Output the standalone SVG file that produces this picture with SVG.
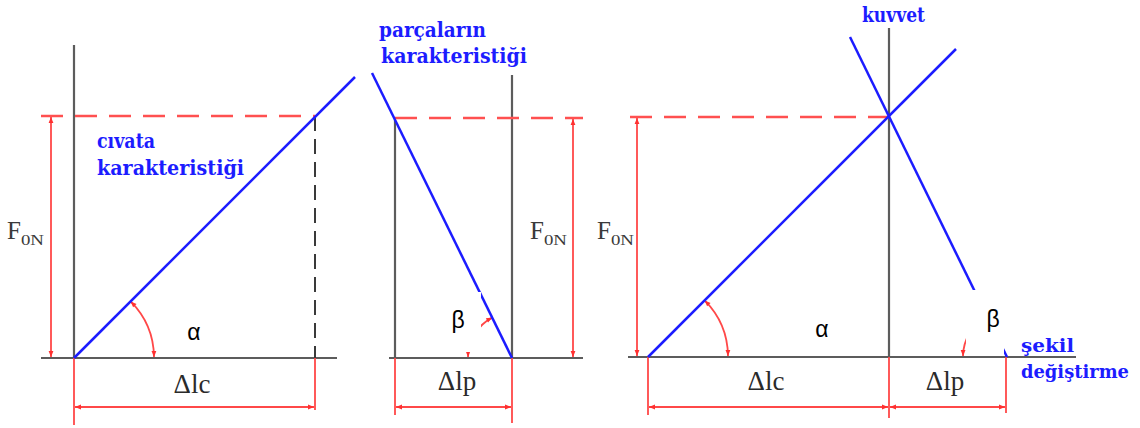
<svg xmlns="http://www.w3.org/2000/svg" width="1140" height="428" viewBox="0 0 1140 428">
<style>
.ax{stroke:#5c5c5c;stroke-width:2.2;fill:none}
.bl{stroke:#1c1cff;stroke-width:2.5;fill:none}
.rd{stroke:#ff4848;stroke-width:1.8;fill:none}
.rdd{stroke:#ff5050;stroke-width:2.4;fill:none;stroke-dasharray:22 12}
.kd{stroke:#3a3a3a;stroke-width:2;fill:none;stroke-dasharray:15 8}
.dim{stroke:#ff4848;stroke-width:1.8;fill:none;marker-start:url(#ar);marker-end:url(#ar)}
.lbl{font-family:"DejaVu Serif","Liberation Serif",serif;font-weight:bold;fill:#1c1cff}
.dl{font-family:"Liberation Serif",serif;font-size:27px;fill:#2a2a2a;text-anchor:middle}
.gr{font-family:"Liberation Sans",sans-serif;font-size:23px;fill:#000;text-anchor:middle}
.f{font-family:"Liberation Serif",serif;font-size:25px;fill:#3a3a3a}
.w{fill:#fff;stroke:none}
</style>
<defs>
<marker id="ar" viewBox="0 0 10 10" refX="10" refY="5" markerWidth="9" markerHeight="6" markerUnits="userSpaceOnUse" orient="auto-start-reverse">
<path d="M0,1 L10,5 L0,9 z" fill="#ff3030"/>
</marker>
</defs>

<g id="panel1">
<line class="ax" x1="74" y1="45" x2="74" y2="358"/>
<line class="ax" x1="41" y1="358" x2="337" y2="358"/>
<line class="rdd" x1="41" y1="116" x2="315" y2="116"/>
<line class="kd" x1="315" y1="116" x2="315" y2="358"/>
<line class="rd" x1="74" y1="358" x2="74" y2="425"/>
<line class="rd" x1="315" y1="358" x2="315" y2="410"/>
<line class="dim" x1="51" y1="117" x2="51" y2="357"/>
<line class="dim" x1="75" y1="407" x2="314" y2="407"/>
<path class="dim" d="M130.6,301.4 A80,80 0 0 1 154,357"/>
<line class="bl" x1="74" y1="358" x2="355" y2="77"/>
<text class="lbl" x="97" y="148" font-size="20" textLength="58" lengthAdjust="spacingAndGlyphs">cıvata</text>
<text class="lbl" x="97" y="175" font-size="20" textLength="147" lengthAdjust="spacingAndGlyphs">karakteristiği</text>
<text class="f" x="7" y="239">F<tspan font-size="15" dy="6" textLength="23" lengthAdjust="spacingAndGlyphs">0N</tspan></text>
<text class="gr" x="194" y="340">α</text>
<text class="dl" x="192" y="393">Δlc</text>
</g>

<g id="panel2">
<line class="ax" x1="512" y1="75" x2="512" y2="358"/>
<line class="ax" x1="395" y1="120" x2="395" y2="358"/>
<line class="ax" x1="389" y1="358" x2="583" y2="358"/>
<line class="rdd" x1="395" y1="118" x2="583" y2="118"/>
<line class="rd" x1="512" y1="358" x2="512" y2="423"/>
<line class="rd" x1="395" y1="358" x2="395" y2="415"/>
<line class="dim" x1="573" y1="119" x2="573" y2="357"/>
<line class="dim" x1="396" y1="407" x2="511" y2="407"/>
<path class="dim" d="M492.3,317.6 A45,45 0 0 0 468,357"/>
<line class="bl" x1="372" y1="73" x2="512" y2="358"/>
<rect class="w" x="438" y="292" width="43" height="60"/>
<text class="lbl" x="379" y="37" font-size="20" textLength="107" lengthAdjust="spacingAndGlyphs">parçaların</text>
<text class="lbl" x="381" y="63" font-size="20" textLength="146" lengthAdjust="spacingAndGlyphs">karakteristiği</text>
<text class="f" x="530" y="239">F<tspan font-size="15" dy="6" textLength="23" lengthAdjust="spacingAndGlyphs">0N</tspan></text>
<text class="gr" x="458" y="328">β</text>
<text class="dl" x="457" y="390">Δlp</text>
</g>

<g id="panel3">
<line class="ax" x1="889" y1="28" x2="889" y2="357"/>
<line class="ax" x1="628" y1="357" x2="1076" y2="357"/>
<line class="rdd" x1="630" y1="117" x2="889" y2="117"/>
<line class="rd" x1="648" y1="357" x2="648" y2="415"/>
<line class="rd" x1="889" y1="357" x2="889" y2="418"/>
<line class="rd" x1="1006" y1="357" x2="1006" y2="413"/>
<line class="dim" x1="637" y1="118" x2="637" y2="356"/>
<line class="dim" x1="649" y1="407" x2="888" y2="407"/>
<line class="dim" x1="890" y1="407" x2="1005" y2="407"/>
<path class="dim" d="M704.6,300.4 A80,80 0 0 1 728,356"/>
<path class="dim" d="M987.3,316.6 A45,45 0 0 0 963,356"/>
<line class="bl" x1="648" y1="357" x2="956" y2="49"/>
<line class="bl" x1="850" y1="37" x2="1007" y2="357"/>
<rect class="w" x="966" y="290" width="38" height="64"/>
<text class="lbl" x="862" y="22" font-size="20" textLength="63" lengthAdjust="spacingAndGlyphs">kuvvet</text>
<text class="lbl" x="1021" y="352" font-size="19" textLength="53" lengthAdjust="spacingAndGlyphs">şekil</text>
<text class="lbl" x="1021" y="378" font-size="19" textLength="108" lengthAdjust="spacingAndGlyphs">değiştirme</text>
<text class="f" x="597" y="239">F<tspan font-size="15" dy="6" textLength="23" lengthAdjust="spacingAndGlyphs">0N</tspan></text>
<text class="gr" x="822" y="337">α</text>
<text class="gr" x="993" y="327">β</text>
<text class="dl" x="766" y="390">Δlc</text>
<text class="dl" x="945" y="390">Δlp</text>
</g>
</svg>
